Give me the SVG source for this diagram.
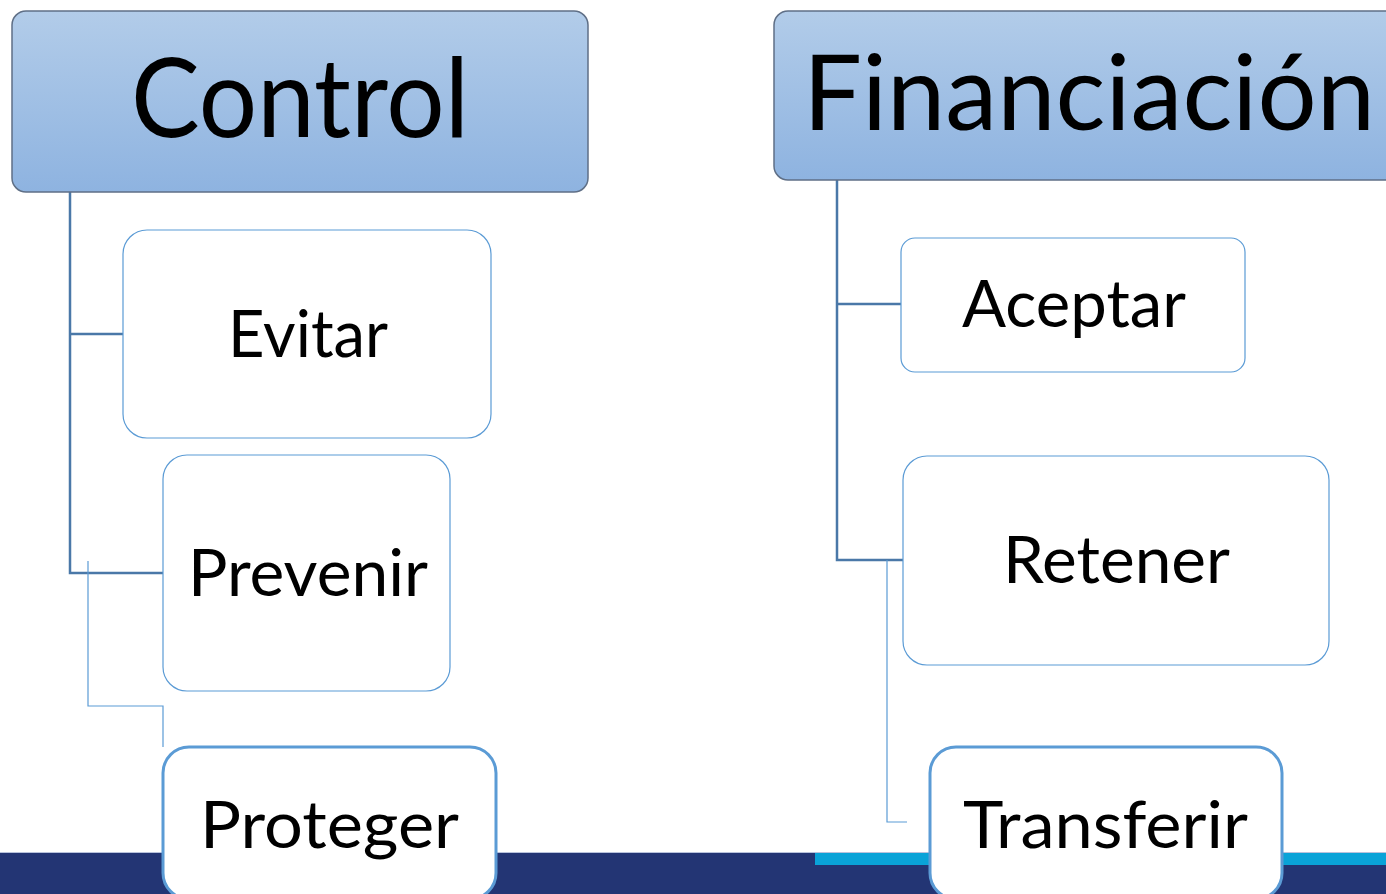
<svg xmlns="http://www.w3.org/2000/svg" width="1386" height="894" viewBox="0 0 1386 894">
<style>
.lbl{font-family:Lato,"Liberation Sans",sans-serif;fill:#000;text-anchor:middle}
.hdr{stroke:#5f6f86;stroke-width:1.5;fill:url(#hg)}
.box{fill:#fff;stroke:#5b9bd5;stroke-width:1.2}
.boxb{fill:#fff;stroke:#5b9bd5;stroke-width:3}
.main{fill:none;stroke:#4a78a8;stroke-width:2.5}
.thin{fill:none;stroke:#5b9bd5;stroke-width:1.2}
</style>
<defs>
<linearGradient id="hg" x1="0" y1="0" x2="0" y2="1">
<stop offset="0" stop-color="#b2cce9"/>
<stop offset="1" stop-color="#8eb3e0"/>
</linearGradient>
</defs>
<rect width="1386" height="894" fill="#fff"/>
<g id="footer">
<rect x="0" y="853" width="1386" height="41" fill="#233574"/>
<rect x="815" y="853" width="571" height="12" fill="#0aa3d8"/>
<line x1="0" y1="852.5" x2="1386" y2="852.5" stroke="#b8c2dc" stroke-width="1"/>
</g>
<g id="connectors">
<path class="main" d="M70 192 V573 H163 M70 334 H123"/>
<path class="thin" d="M88 561 V706 H163 V747"/>
<path class="main" d="M837 180 V560 H903 M837 304 H901"/>
<path class="thin" d="M887 560 V822 H907"/>
</g>
<g id="control">
<rect class="hdr" x="12" y="11" width="576" height="181" rx="14"/>
<text class="lbl" x="300" y="137" font-size="110" textLength="338" lengthAdjust="spacingAndGlyphs">Control</text>
</g>
<g id="financiacion">
<rect class="hdr" x="774" y="11" width="640" height="169" rx="14"/>
<text class="lbl" x="1089" y="130" font-size="105" textLength="572" lengthAdjust="spacingAndGlyphs">Financiación</text>
</g>
<g id="evitar">
<rect class="box" x="123" y="230" width="368" height="208" rx="24"/>
<text class="lbl" x="308" y="357" font-size="66" textLength="160" lengthAdjust="spacingAndGlyphs">Evitar</text>
</g>
<g id="prevenir">
<rect class="box" x="163" y="455" width="287" height="236" rx="24"/>
<text class="lbl" x="308" y="596" font-size="66" textLength="240" lengthAdjust="spacingAndGlyphs">Prevenir</text>
</g>
<g id="proteger">
<rect class="boxb" x="163" y="747" width="333" height="152" rx="26"/>
<text class="lbl" x="329.5" y="848" font-size="66" textLength="259" lengthAdjust="spacingAndGlyphs">Proteger</text>
</g>
<g id="aceptar">
<rect class="box" x="901" y="238" width="344" height="134" rx="14"/>
<text class="lbl" x="1074" y="327" font-size="66" textLength="224" lengthAdjust="spacingAndGlyphs">Aceptar</text>
</g>
<g id="retener">
<rect class="box" x="903" y="456" width="426" height="209" rx="24"/>
<text class="lbl" x="1116.5" y="583" font-size="66" textLength="227" lengthAdjust="spacingAndGlyphs">Retener</text>
</g>
<g id="transferir">
<rect class="boxb" x="930" y="747" width="352" height="152" rx="26"/>
<text class="lbl" x="1105.5" y="848" font-size="66" textLength="285" lengthAdjust="spacingAndGlyphs">Transferir</text>
</g>
</svg>
